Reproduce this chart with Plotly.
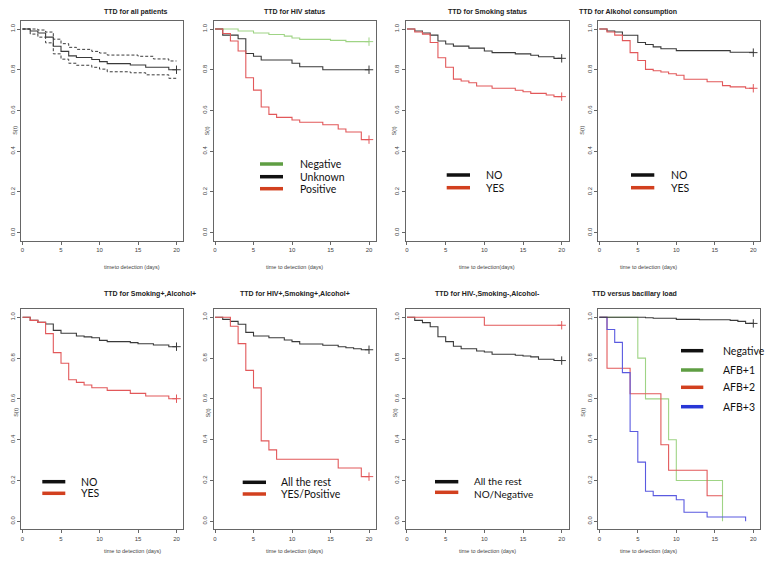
import plotly.graph_objects as go

W, H = 765, 562

# ---------------- data ----------------
titles = ["TTD for all patients", "TTD for HIV status", "TTD for Smoking status",
          "TTD for Alkohol consumption", "TTD for Smoking+,Alcohol+",
          "TTD for HIV+,Smoking+,Alcohol+", "TTD for HIV-,Smoking-,Alcohol-",
          "TTD versus bacillary load"]
xtitles = ["timeto detection (days)", "time to detection (days)", "time to detection(days)",
           "time to detection (days)", "time to detection (days)", "time to detection (days)",
           "time to detection (days)", "time to detection (days)"]
ytitle = "S(t)"
x_ticks = [0, 5, 10, 15, 20]
y_ticks = [0.0, 0.2, 0.4, 0.6, 0.8, 1.0]
y_ticklabels = ["0.0", "0.2", "0.4", "0.6", "0.8", "1.0"]

# Panel 1: all patients (estimate + CI)
t_all = [0, 1, 2, 3, 4, 5, 6, 7, 9, 10, 11, 14, 16, 19, 20]
s_all = [1.0, 0.99, 0.98, 0.96, 0.915, 0.89, 0.868, 0.86, 0.85, 0.84, 0.83, 0.823, 0.812, 0.80, 0.80]
t_all_up = [0, 1, 2, 3, 4, 5, 6, 7, 9, 10, 11, 15, 17, 19, 20]
s_all_up = [1.0, 1.0, 0.995, 0.985, 0.95, 0.928, 0.91, 0.9, 0.89, 0.882, 0.872, 0.866, 0.853, 0.843, 0.843]
t_all_lo = [0, 1, 2, 3, 4, 5, 6, 7, 9, 10, 11, 14, 16, 19, 20]
s_all_lo = [1.0, 0.975, 0.96, 0.932, 0.878, 0.852, 0.832, 0.822, 0.812, 0.803, 0.79, 0.785, 0.775, 0.758, 0.758]

# Panel 2: HIV status
t_hiv_neg = [0, 3, 5, 7, 9, 10, 11, 15, 17, 20]
s_hiv_neg = [1.0, 0.99, 0.98, 0.973, 0.965, 0.956, 0.949, 0.944, 0.938, 0.938]
t_hiv_unk = [0, 1, 3, 4, 5, 6, 10, 11, 14, 20]
s_hiv_unk = [1.0, 0.97, 0.952, 0.88, 0.866, 0.848, 0.832, 0.815, 0.80, 0.80]
t_hiv_pos = [0, 1, 2, 3, 4, 5, 6, 7, 8, 10, 11, 14, 16, 17, 19, 20]
s_hiv_pos = [1.0, 0.978, 0.941, 0.892, 0.761, 0.70, 0.617, 0.581, 0.566, 0.553, 0.542, 0.53, 0.509, 0.494, 0.457, 0.457]

# Panel 3: smoking
t_smk_no = [0, 1, 2, 3, 4, 5, 6, 8, 10, 11, 14, 16, 17, 19, 20]
s_smk_no = [1.0, 0.99, 0.98, 0.97, 0.941, 0.926, 0.916, 0.906, 0.892, 0.884, 0.878, 0.871, 0.864, 0.856, 0.856]
t_smk_yes = [0, 1, 2, 3, 4, 5, 6, 7, 8, 9, 11, 14, 15, 16, 18, 19, 20]
s_smk_yes = [1.0, 0.985, 0.975, 0.934, 0.859, 0.812, 0.754, 0.745, 0.736, 0.72, 0.709, 0.699, 0.692, 0.684, 0.676, 0.668, 0.668]

# Panel 4: alcohol
t_alc_no = [0, 1, 2, 3, 5, 6, 7, 8, 10, 17, 20]
s_alc_no = [1.0, 0.99, 0.985, 0.969, 0.934, 0.924, 0.912, 0.903, 0.894, 0.886, 0.884]
t_alc_yes = [0, 1, 2, 3, 4, 5, 6, 7, 8, 9, 10, 11, 14, 16, 17, 19, 20]
s_alc_yes = [1.0, 0.985, 0.97, 0.943, 0.884, 0.845, 0.802, 0.795, 0.789, 0.78, 0.773, 0.753, 0.741, 0.722, 0.716, 0.709, 0.709]

# Panel 5: smoking+ alcohol+
t_sa_no = [0, 1, 2, 3, 4, 5, 7, 8, 9, 10, 11, 14, 15, 17, 19, 20]
s_sa_no = [1.0, 0.985, 0.975, 0.967, 0.936, 0.922, 0.908, 0.904, 0.90, 0.887, 0.881, 0.876, 0.87, 0.864, 0.856, 0.856]
t_sa_yes = [0, 1, 2, 3, 4, 5, 6, 7, 8, 9, 11, 14, 16, 19, 20]
s_sa_yes = [1.0, 0.985, 0.975, 0.92, 0.827, 0.775, 0.694, 0.681, 0.668, 0.655, 0.642, 0.627, 0.614, 0.601, 0.601]

# Panel 6: HIV+ smoking+ alcohol+
t_hsa_rest = [0, 1, 2, 3, 4, 5, 7, 9, 10, 11, 14, 16, 17, 18, 19, 20]
s_hsa_rest = [1.0, 0.99, 0.98, 0.966, 0.926, 0.908, 0.90, 0.889, 0.881, 0.869, 0.863, 0.856, 0.851, 0.846, 0.841, 0.841]
t_hsa_pos = [0, 2, 3, 4, 5, 6, 7, 8, 16, 19, 20]
s_hsa_pos = [1.0, 0.956, 0.871, 0.74, 0.654, 0.394, 0.35, 0.304, 0.261, 0.219, 0.219]

# Panel 7: HIV- smoking- alcohol-
t_nsa_rest = [0, 1, 2, 3, 4, 5, 6, 7, 9, 10, 11, 14, 15, 16, 17, 19, 20]
s_nsa_rest = [1.0, 0.985, 0.974, 0.954, 0.905, 0.881, 0.858, 0.846, 0.835, 0.83, 0.819, 0.814, 0.81, 0.806, 0.794, 0.788, 0.788]
t_nsa_neg = [0, 10, 20]
s_nsa_neg = [1.0, 0.961, 0.961]

# Panel 8: bacillary load
t_afb_neg = [0, 6, 7, 10, 13, 17, 18, 19, 20]
s_afb_neg = [1.0, 0.998, 0.995, 0.99, 0.988, 0.985, 0.98, 0.97, 0.97]
t_afb1 = [0, 5, 6, 9, 10, 16]
s_afb1 = [1.0, 0.80, 0.60, 0.40, 0.20, 0.0]
t_afb2 = [0, 1, 4, 8, 9, 14, 16]
s_afb2 = [1.0, 0.75, 0.625, 0.375, 0.25, 0.125, 0.125]
t_afb3 = [0, 1, 2, 3, 4, 5, 6, 7, 10, 11, 14, 19]
s_afb3 = [1.0, 0.94, 0.877, 0.729, 0.44, 0.29, 0.147, 0.126, 0.106, 0.044, 0.021, 0.0]

# legend labels
leg_hiv = ["Negative", "Unknown", "Positive"]
leg_yesno = ["NO", "YES"]
leg_hsa = ["All the rest", "YES/Positive"]
leg_nsa = ["All the rest", "NO/Negative"]
leg_afb = ["Negative", "AFB+1", "AFB+2", "AFB+3"]

# ---------------- styling ----------------
C_BLACK = "#3a3a3a"
C_RED = "#e2585a"
C_GREEN = "#9fd485"
C_BLUE = "#5a5ae0"
L_BLACK = "#111111"
L_GREEN = "#5f9e43"
L_RED = "#d2401f"
L_BLUE = "#2837d6"

FONT_SMALL = "Liberation Sans Narrow, Liberation Sans, Arial, sans-serif"
FONT_LEG = "Lato, Open Sans, sans-serif"

col_x0 = [22.5, 215.0, 407.0, 599.3]
col_x20 = [176.5, 369.0, 561.7, 753.3]
row_y1 = [29.0, 317.3]
row_y0 = [232.7, 521.3]
XR = [-0.15, 20.9]
YR = [-0.04, 1.04]

fig = go.Figure()
layout = {}
annotations = []
shapes = []


def frame(i):
    r, c = divmod(i, 4)
    s = (col_x20[c] - col_x0[c]) / 20.0
    left = col_x0[c] + XR[0] * s
    right = col_x0[c] + XR[1] * s
    h = row_y0[r] - row_y1[r]
    top = row_y1[r] - (YR[1] - 1.0) * h
    bot = row_y0[r] - YR[0] * h
    return left, right, top, bot


for i in range(8):
    r, c = divmod(i, 4)
    left, right, top, bot = frame(i)
    xa = "xaxis" if i == 0 else f"xaxis{i+1}"
    ya = "yaxis" if i == 0 else f"yaxis{i+1}"
    layout[xa] = dict(domain=[left / W, right / W], range=XR, anchor=f"y{i+1 if i else ''}",
                      showline=True, mirror=True, linecolor="#666666", linewidth=1,
                      ticks="outside", ticklen=3, tickcolor="#666666", tickwidth=1,
                      tickvals=x_ticks, tickfont=dict(size=6, color="#444444", family=FONT_SMALL),
                      showgrid=False, zeroline=False, fixedrange=True)
    layout[ya] = dict(domain=[1 - bot / H, 1 - top / H], range=YR, anchor=f"x{i+1 if i else ''}",
                      showline=True, mirror=True, linecolor="#666666", linewidth=1,
                      ticks="outside", ticklen=3, tickcolor="#666666", tickwidth=1,
                      tickvals=y_ticks, ticktext=y_ticklabels, tickangle=-90,
                      tickfont=dict(size=6, color="#444444", family=FONT_SMALL),
                      showgrid=False, zeroline=False, fixedrange=True)
    cx = (left + right) / 2 / W
    annotations.append(dict(text="<b>" + titles[i] + "</b>", x=cx, y=1 - (6 if r == 0 else 294) / H,
                            xref="paper", yref="paper", showarrow=False,
                            font=dict(size=7, color="#222222", family=FONT_SMALL)))
    annotations.append(dict(text=xtitles[i], x=cx, y=1 - (267 if r == 0 else 556) / H,
                            xref="paper", yref="paper", showarrow=False,
                            font=dict(size=5.5, color="#444444", family=FONT_SMALL)))
    annotations.append(dict(text=ytitle, x=(left - 11) / W, y=1 - (124 if r == 0 else 419) / H,
                            xref="paper", yref="paper", showarrow=False, textangle=-90,
                            font=dict(size=5.5, color="#444444", family=FONT_SMALL)))


def curve(i, t, s, color, dash="solid", cross=True, width=1.1):
    ax = "" if i == 0 else str(i + 1)
    fig.add_trace(go.Scatter(x=t, y=s, mode="lines", line=dict(color=color, width=width, shape="hv", dash=dash),
                             xaxis="x" + ax, yaxis="y" + ax, showlegend=False, hoverinfo="skip"))
    if cross:
        fig.add_trace(go.Scatter(x=[t[-1]], y=[s[-1]], mode="markers",
                                 marker=dict(symbol="cross-thin", size=6, line=dict(color=color, width=1)),
                                 xaxis="x" + ax, yaxis="y" + ax, showlegend=False, hoverinfo="skip"))


curve(0, t_all_up, s_all_up, C_BLACK, dash="3px,2px", cross=False, width=1)
curve(0, t_all_lo, s_all_lo, C_BLACK, dash="3px,2px", cross=False, width=1)
curve(0, t_all, s_all, C_BLACK)

curve(1, t_hiv_neg, s_hiv_neg, C_GREEN)
curve(1, t_hiv_unk, s_hiv_unk, C_BLACK)
curve(1, t_hiv_pos, s_hiv_pos, C_RED)

curve(2, t_smk_no, s_smk_no, C_BLACK)
curve(2, t_smk_yes, s_smk_yes, C_RED)

curve(3, t_alc_no, s_alc_no, C_BLACK)
curve(3, t_alc_yes, s_alc_yes, C_RED)

curve(4, t_sa_no, s_sa_no, C_BLACK)
curve(4, t_sa_yes, s_sa_yes, C_RED)

curve(5, t_hsa_rest, s_hsa_rest, C_BLACK)
curve(5, t_hsa_pos, s_hsa_pos, C_RED)

curve(6, t_nsa_rest, s_nsa_rest, C_BLACK)
curve(6, t_nsa_neg, s_nsa_neg, C_RED)

curve(7, t_afb1, s_afb1, C_GREEN, cross=False)
curve(7, t_afb2, s_afb2, C_RED, cross=False)
curve(7, t_afb3, s_afb3, C_BLUE, cross=False)
curve(7, t_afb_neg, s_afb_neg, C_BLACK)


def legend(labels, colors, x1, x2, ys, tx, fs=10.5, tys=None):
    tys = tys or ys
    for lab, col, yy, ty in zip(labels, colors, ys, tys):
        shapes.append(dict(type="line", xref="paper", yref="paper", x0=x1 / W, x1=x2 / W,
                           y0=1 - yy / H, y1=1 - yy / H, line=dict(color=col, width=3.5)))
        annotations.append(dict(text=lab, x=tx / W, y=1 - ty / H, xref="paper", yref="paper",
                                xanchor="left", yanchor="middle", showarrow=False,
                                font=dict(size=fs, color="#111111", family=FONT_LEG)))


legend(leg_hiv, [L_GREEN, L_BLACK, L_RED], 260, 283, [164, 176.7, 188.7], 297.7)
legend(leg_yesno, [L_BLACK, L_RED], 446.7, 470, [175, 187.7], 484.3)
legend(leg_yesno, [L_BLACK, L_RED], 631, 654.3, [175, 187.7], 668.7)
legend(leg_yesno, [L_BLACK, L_RED], 42.3, 65.3, [481.7, 493.3], 79.3)
legend(leg_hsa, [L_BLACK, L_RED], 242.7, 266, [482.3, 494], 279.3)
legend(leg_nsa, [L_BLACK, L_RED], 435, 458.3, [481.7, 492.3], 471.7, fs=10, tys=[481, 494])
legend(leg_afb, [L_BLACK, L_GREEN, L_RED, L_BLUE], 681, 703.3, [350.7, 370, 387.3, 406.7], 721)

fig.update_layout(**layout)
fig.update_layout(width=W, height=H, margin=dict(l=0, r=0, t=0, b=0),
                  paper_bgcolor="white", plot_bgcolor="white",
                  annotations=annotations, shapes=shapes, showlegend=False)

fig.write_html("out.html", config={"displayModeBar": False},
               post_script="document.body.style.margin='0';document.body.style.overflow='hidden';")
